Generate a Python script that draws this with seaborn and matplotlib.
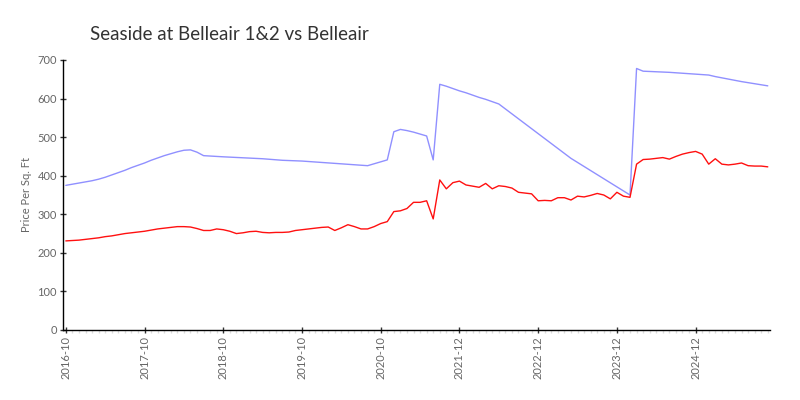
import numpy as np
import pandas as pd
import matplotlib
matplotlib.use("Agg")
import matplotlib.pyplot as plt
import seaborn as sns
from matplotlib.ticker import MultipleLocator

# month categories: monthly from 2016-10, two months missing in 2021
all_months = pd.date_range("2016-10-01", "2025-11-01", freq="MS").strftime("%Y-%m").tolist()
missing_months = ["2021-03", "2021-04"]
months = [m for m in all_months if m not in missing_months]

tick_labels = ["2016-10", "2017-10", "2018-10", "2019-10", "2020-10",
               "2021-12", "2022-12", "2023-12", "2024-12"]

# Seaside at Belleair 1&2 (red), one value per month
red_values = [
    231, 232, 233, 235, 237, 239, 242, 244, 247, 250, 252, 254,
    256, 259, 262, 264, 266, 268, 268, 267, 263, 258, 258, 262,
    260, 256, 250, 252, 255, 256, 253, 252, 253, 253, 254, 258,
    260, 262, 264, 266, 267, 258, 265, 273, 268, 262, 262, 268,
    276, 281, 307, 309, 315, 331, 331, 335, 288, 389, 366, 382,
    386, 376, 373, 370, 380, 366, 374, 372, 368, 357, 355, 353,
    335, 336, 335, 343, 343, 337, 347, 345, 349, 354, 350, 340,
    357, 347, 344, 430, 442, 443, 445, 447, 443, 450, 456, 460,
    463, 456, 430, 444, 430, 428, 430, 433, 426, 425, 425, 423,
]

# Belleair (blue), sparse months
blue_months = [
    "2016-10", "2016-11", "2016-12", "2017-01", "2017-02", "2017-03",
    "2017-04", "2017-05", "2017-06", "2017-07", "2017-08", "2017-09",
    "2017-10", "2017-11", "2017-12", "2018-01", "2018-02", "2018-03",
    "2018-04", "2018-05", "2018-06", "2018-07", "2018-10", "2019-04",
    "2019-07", "2019-10", "2020-08", "2020-10", "2020-11", "2020-12",
    "2021-01", "2021-02", "2021-05", "2021-06", "2021-07", "2021-08",
    "2021-09", "2021-10", "2021-11", "2021-12", "2022-01", "2022-02",
    "2022-03", "2022-04", "2022-05", "2022-06", "2023-05", "2024-02",
    "2024-03", "2024-04", "2024-08", "2025-02", "2025-03", "2025-07",
    "2025-11",
]
blue_values = [
    375, 378, 381, 384, 387, 391,
    396, 402, 408, 414, 421, 427,
    433, 440, 446, 452, 457, 462,
    466, 467, 461, 452, 449, 444,
    440, 438, 426, 436, 441, 514,
    520, 517, 513, 508, 503, 441,
    637, 632, 626, 620, 615, 609,
    603, 598, 592, 586, 445, 350,
    678, 671, 668, 661, 657, 644,
    633,
]

pos = {m: i for i, m in enumerate(months)}
red_df = pd.DataFrame({"x": [pos[m] for m in months], "y": red_values})
blue_df = pd.DataFrame({"x": [pos[m] for m in blue_months], "y": blue_values})

sns.set_theme(style="white")
plt.rcParams["font.family"] = ["Lato", "DejaVu Sans"]

fig = plt.figure(figsize=(8, 4), dpi=100)
ax = fig.add_axes([0.079, 0.175, 0.884, 0.675])

sns.lineplot(data=blue_df, x="x", y="y", color="#9090ff", linewidth=1.0, ax=ax)
sns.lineplot(data=red_df, x="x", y="y", color="#ff1010", linewidth=1.0, ax=ax)

ax.set_xlim(-0.4, 107.4)
ax.set_ylim(0, 700)

ax.set_xticks([pos[m] for m in tick_labels])
ax.set_xticklabels(tick_labels, rotation=90, fontsize=8, color="#666666")
ax.xaxis.set_minor_locator(MultipleLocator(1))
ax.set_yticks(np.arange(0, 701, 100))
ax.set_yticklabels([str(v) for v in range(0, 701, 100)], fontsize=8, color="#666666")

ax.tick_params(axis="both", which="major", direction="inout", length=5, width=1,
               color="#333333", pad=2, bottom=True, left=True)
ax.tick_params(axis="x", which="minor", direction="out", length=2, width=1,
               color="#dddddd", bottom=True)

for side in ["top", "right"]:
    ax.spines[side].set_visible(False)
for side in ["left", "bottom"]:
    ax.spines[side].set_color("black")
    ax.spines[side].set_linewidth(1.0)

ax.set_xlabel("")
ax.set_ylabel("Price Per Sq. Ft", fontsize=8, color="#666666", labelpad=4)
ax.grid(False)

fig.text(0.1125, 0.915, "Seaside at Belleair 1&2 vs Belleair", fontsize=13.5,
         color="#333333", ha="left", va="center")

fig.savefig("out.png", dpi=100)
